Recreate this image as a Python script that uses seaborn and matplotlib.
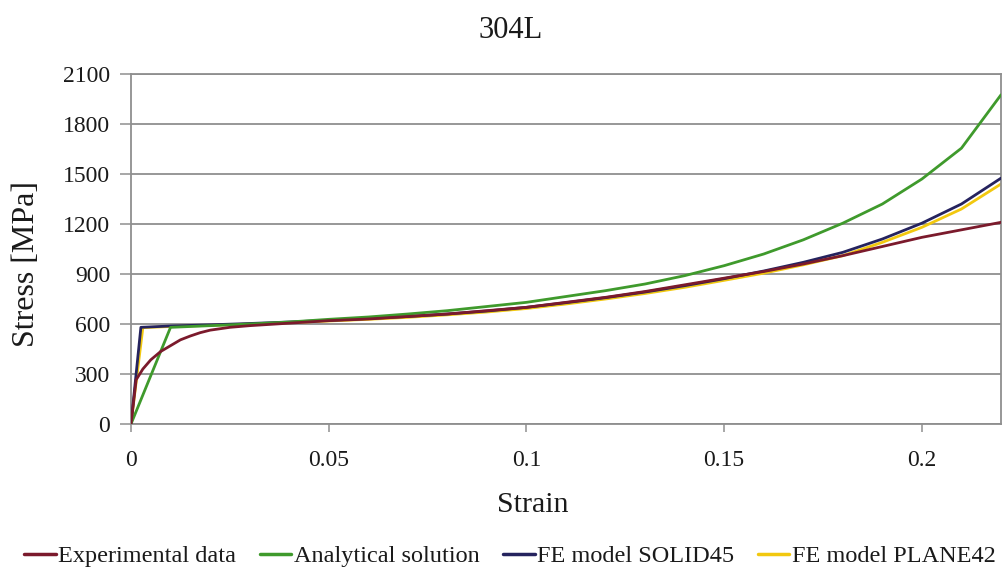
import numpy as np
import pandas as pd
import matplotlib
matplotlib.use("Agg")
import matplotlib.pyplot as plt
import seaborn as sns

# Stress-strain curves for 304L stainless steel
exp_strain = [0, 0.0013, 0.003, 0.005, 0.0075, 0.01, 0.0125, 0.015, 0.0175, 0.02,
              0.025, 0.03, 0.04, 0.05, 0.06, 0.07, 0.08, 0.09, 0.1, 0.11, 0.12,
              0.13, 0.14, 0.15, 0.16, 0.17, 0.18, 0.19, 0.2, 0.21, 0.22]
exp_stress = [0, 265, 330, 385, 435, 470, 505, 528, 548, 563,
              580, 590, 605, 620, 630, 645, 660, 680, 700, 730, 760,
              795, 835, 875, 915, 960, 1010, 1065, 1120, 1165, 1210]

ana_strain = [0, 0.01, 0.02, 0.03, 0.04, 0.05, 0.06, 0.07, 0.08, 0.09, 0.1,
              0.11, 0.12, 0.13, 0.14, 0.15, 0.16, 0.17, 0.18, 0.19, 0.2, 0.21, 0.22]
ana_stress = [0, 580, 590, 600, 612, 628, 642, 660, 680, 705, 730,
              765, 800, 840, 890, 950, 1020, 1105, 1205, 1320, 1470, 1655, 1975]

solid_strain = [0, 0.0025, 0.01, 0.02, 0.03, 0.04, 0.05, 0.06, 0.07, 0.08, 0.09, 0.1,
                0.11, 0.12, 0.13, 0.14, 0.15, 0.16, 0.17, 0.18, 0.19, 0.2, 0.21, 0.22]
solid_stress = [0, 580, 588, 595, 603, 612, 622, 633, 645, 660, 678, 700,
                728, 758, 792, 830, 872, 918, 970, 1030, 1110, 1205, 1320, 1475]

plane_strain = [0, 0.003, 0.01, 0.02, 0.03, 0.04, 0.05, 0.06, 0.07, 0.08, 0.09, 0.1,
                0.11, 0.12, 0.13, 0.14, 0.15, 0.16, 0.17, 0.18, 0.19, 0.2, 0.21, 0.22]
plane_stress = [0, 578, 585, 592, 600, 608, 618, 628, 640, 655, 672, 693,
                720, 750, 783, 820, 862, 905, 955, 1010, 1090, 1180, 1290, 1440]

series_names = ["Experimental data", "Analytical solution", "FE model SOLID45", "FE model PLANE42"]
series_colors = ["#7B1A2C", "#3F9A2C", "#25235E", "#F2C80F"]
series_data = [(exp_strain, exp_stress), (ana_strain, ana_stress),
               (solid_strain, solid_stress), (plane_strain, plane_stress)]
draw_order = {"FE model PLANE42": 2, "FE model SOLID45": 3,
              "Analytical solution": 4, "Experimental data": 5}

x_ticks = [0, 0.05, 0.1, 0.15, 0.2]
x_ticklabels = ["0", "0.05", "0.1", "0.15", "0.2"]
y_ticks = [0, 300, 600, 900, 1200, 1500, 1800, 2100]

sns.set_style("white")
plt.rcParams["font.family"] = ["Liberation Serif", "DejaVu Serif"]

fig = plt.figure(figsize=(10.07, 5.71), dpi=100)
ax = fig.add_axes([131 / 1007, 1 - 424 / 571, 870 / 1007, 350 / 571])

grid_color = "#8f8f8f"
text_color = "#1a1a1a"
for name, color, (xs, ys) in zip(series_names, series_colors, series_data):
    df = pd.DataFrame({"Strain": xs, "Stress": ys})
    sns.lineplot(data=df, x="Strain", y="Stress", ax=ax, color=color,
                 linewidth=2.0, estimator=None, label=name,
                 zorder=draw_order[name])

ax.set_xlim(0, 0.22)
ax.set_ylim(0, 2100)
ax.set_xticks(x_ticks)
ax.set_xticklabels(x_ticklabels)
ax.set_yticks(y_ticks)
ax.yaxis.grid(True, color=grid_color, linewidth=1.3)
ax.set_axisbelow(True)
for side in ["left", "bottom", "right", "top"]:
    ax.spines[side].set_color(grid_color)
    ax.spines[side].set_linewidth(1.3)
ax.tick_params(axis="x", direction="out", length=6, width=1.1, color=grid_color,
               pad=13, labelsize=17, labelcolor=text_color, bottom=True)
ax.tick_params(axis="y", direction="out", length=8, width=1.1, color=grid_color,
               pad=7, labelsize=17, labelcolor=text_color, left=True)
ax.set_xlabel("")
ax.set_ylabel("")

fig.text(511 / 1007, 1 - 30 / 571, "304L", ha="center", va="center", fontsize=22, color=text_color)
fig.text(533 / 1007, 1 - 505 / 571, "Strain", ha="center", va="center", fontsize=21.5, color=text_color)
fig.text(27 / 1007, 1 - 264 / 571, "Stress [MPa]", ha="center", va="center", rotation=90,
         fontsize=23, color=text_color)

handles, labels = ax.get_legend_handles_labels()
ax.get_legend().remove()
order = [labels.index(n) for n in series_names]
fig.legend([handles[i] for i in order], [labels[i] for i in order],
           loc="center", bbox_to_anchor=(510 / 1007, 1 - 556 / 571), ncol=4,
           frameon=False, fontsize=17.5, handlelength=1.3, handletextpad=0.12,
           columnspacing=0.95, borderaxespad=0, borderpad=0)
for t in fig.legends[0].get_texts():
    t.set_color(text_color)
for line in fig.legends[0].get_lines():
    line.set_linewidth(2.5)

fig.savefig("out.png", dpi=100)
